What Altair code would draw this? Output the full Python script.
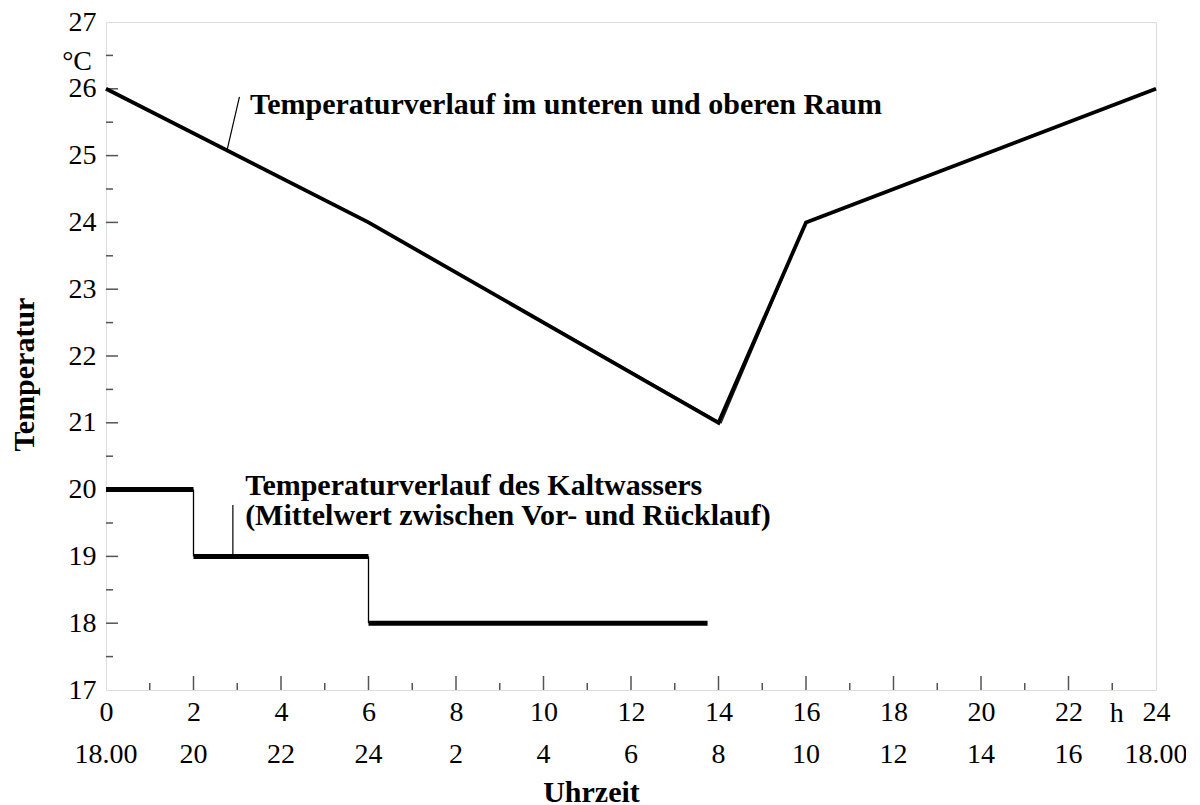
import altair as alt
import pandas as pd

FONT = "Liberation Serif"

# Room temperature (lower and upper room, nearly identical)
room_hours = [0, 6, 14, 16, 24]
room_lower = [26, 24, 21, 24, 26]
room_upper_hours = [0, 6, 14.06, 16, 24]
room_upper = [26, 24, 21.0, 24, 26]

# Cold water (mean of supply and return) - step profile
cw_start = [0, 2, 6]
cw_end = [2, 6, 13.75]
cw_temp = [20, 19, 18]
cw_step_x = [2, 6]
cw_step_top = [20, 19]
cw_step_bot = [19, 18]

# Axis ticks / labels
x_ticks = list(range(0, 25, 2))
clock_labels = ["18.00", "20", "22", "24", "2", "4", "6", "8", "10", "12", "14", "16", "18.00"]
y_ticks = list(range(17, 28))
x_major_inner = list(range(2, 23, 2))
x_minor_inner = list(range(1, 24, 2))
y_major_inner = list(range(18, 27))
y_minor_inner = [v + 0.5 for v in range(17, 27)]

W, H = 1050, 668

xs = alt.Scale(domain=[0, 24], nice=False, zero=False)
ys = alt.Scale(domain=[17, 27], nice=False, zero=False)

room_df = pd.DataFrame({"h": room_hours, "t": room_lower})
room2_df = pd.DataFrame({"h": room_upper_hours, "t": room_upper})
cw_df = pd.DataFrame({"a": cw_start, "b": cw_end, "t": cw_temp})
cws_df = pd.DataFrame({"h": cw_step_x, "t1": cw_step_top, "t2": cw_step_bot})

base_x_axis = alt.Axis(
    values=x_ticks, format="d", labelFont=FONT, labelFontSize=28, labelColor="black",
    labelPadding=8, labelFlush=False, labelOverlap=False, ticks=False, domain=False, grid=False,
    title="Uhrzeit", titleFont=FONT, titleFontSize=30, titleFontWeight="bold", titleColor="black",
    titleBaseline="alphabetic", titleY=111, titleX=485, titleAlign="center",
)
base_y_axis = alt.Axis(
    values=y_ticks, format="d", labelFont=FONT, labelFontSize=28, labelColor="black",
    labelPadding=10, labelFlush=False, labelOverlap=False, ticks=False, domain=False, grid=False,
    title="Temperatur", titleFont=FONT, titleFontSize=30, titleFontWeight="bold", titleColor="black",
    titleAngle=270, titleBaseline="alphabetic", titleX=-73, titleY=352, titleAlign="center",
)

room = alt.Chart(room_df).mark_line(color="black", strokeWidth=3.8).encode(
    x=alt.X("h:Q", scale=xs, axis=base_x_axis),
    y=alt.Y("t:Q", scale=ys, axis=base_y_axis),
)
room2 = alt.Chart(room2_df).mark_line(color="#222", strokeWidth=1.5).encode(
    x=alt.X("h:Q", scale=xs), y=alt.Y("t:Q", scale=ys)
)

cw_h = alt.Chart(cw_df).mark_rule(color="black", strokeWidth=5).encode(
    x=alt.X("a:Q", scale=xs), x2="b:Q", y=alt.Y("t:Q", scale=ys)
)
cw_v = alt.Chart(cws_df).mark_rule(color="black", strokeWidth=1.3).encode(
    x=alt.X("h:Q", scale=xs), y=alt.Y("t1:Q", scale=ys), y2="t2:Q"
)

# inward ticks
ymaj = alt.Chart(pd.DataFrame({"v": y_major_inner})).mark_rule(color="#555", strokeWidth=1.5).encode(
    y=alt.Y("v:Q", scale=ys), x=alt.value(0), x2=alt.value(12)
)
ymin = alt.Chart(pd.DataFrame({"v": y_minor_inner})).mark_rule(color="#555", strokeWidth=1.5).encode(
    y=alt.Y("v:Q", scale=ys), x=alt.value(0), x2=alt.value(7)
)
xmaj = alt.Chart(pd.DataFrame({"v": x_major_inner})).mark_rule(color="#555", strokeWidth=1.5).encode(
    x=alt.X("v:Q", scale=xs), y=alt.value(H), y2=alt.value(H - 14)
)
xmin = alt.Chart(pd.DataFrame({"v": x_minor_inner})).mark_rule(color="#555", strokeWidth=1.5).encode(
    x=alt.X("v:Q", scale=xs), y=alt.value(H), y2=alt.value(H - 7)
)

# second row of x labels (clock time)
clock = alt.Chart(pd.DataFrame({"h": x_ticks, "lab": clock_labels})).mark_text(
    font=FONT, fontSize=28, color="black", baseline="alphabetic", align="center"
).encode(x=alt.X("h:Q", scale=xs), y=alt.value(741), text="lab:N")

unit_h = alt.Chart(pd.DataFrame({"h": [23.1], "lab": ["h"]})).mark_text(
    font=FONT, fontSize=28, color="black", baseline="alphabetic", align="center"
).encode(x=alt.X("h:Q", scale=xs), y=alt.value(700), text="lab:N")

unit_c = alt.Chart(pd.DataFrame({"t": [26.28], "lab": ["°C"]})).mark_text(
    font=FONT, fontSize=28, color="black", baseline="alphabetic", align="right"
).encode(y=alt.Y("t:Q", scale=ys), x=alt.value(-14), text="lab:N")

# annotations
ann_df = pd.DataFrame({
    "h": [3.29, 3.18, 3.18],
    "t": [25.63, 19.92, 19.47],
    "lab": [
        "Temperaturverlauf im unteren und oberen Raum",
        "Temperaturverlauf des Kaltwassers",
        "(Mittelwert zwischen Vor- und Rücklauf)",
    ],
})
ann = alt.Chart(ann_df).mark_text(
    font=FONT, fontSize=30, fontWeight="bold", color="black", baseline="alphabetic", align="left"
).encode(x=alt.X("h:Q", scale=xs), y=alt.Y("t:Q", scale=ys), text="lab:N")

lead_df = pd.DataFrame({"h1": [2.77, 2.9], "t1": [25.09, 19.0], "h2": [3.05, 2.9], "t2": [25.88, 19.77]})
lead = alt.Chart(lead_df).mark_rule(color="black", strokeWidth=1.2).encode(
    x=alt.X("h1:Q", scale=xs), y=alt.Y("t1:Q", scale=ys), x2="h2:Q", y2="t2:Q"
)

chart = alt.layer(
    ymaj, ymin, xmaj, xmin, cw_v, cw_h, room2, room, lead, ann, clock, unit_h, unit_c
).properties(
    width=W, height=H,
    autosize=alt.AutoSizeParams(type="none"),
    padding={"left": 98, "top": 14, "right": 30, "bottom": 116},
).configure_view(stroke="#111", strokeWidth=2.2).configure(background="white")

chart.save("out.html", embed_options={"renderer": "svg", "actions": False})
